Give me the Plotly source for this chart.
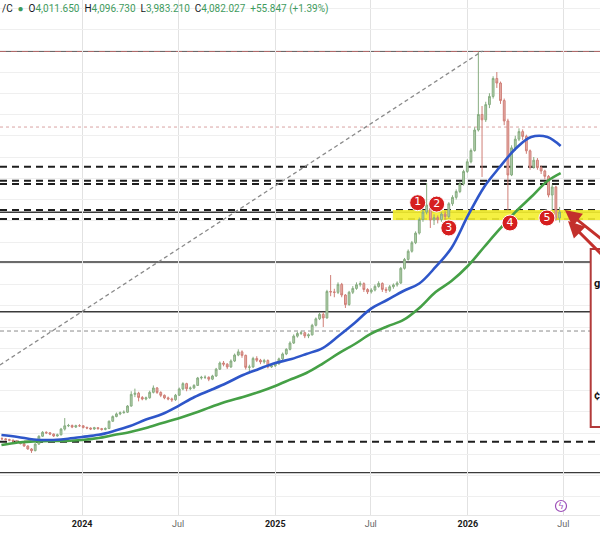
import pandas as pd
import plotly.graph_objects as go

# ---------------- data ----------------
week_start = "2023-08-02"
first_open = 1950
closes = [1947, 1940, 1934, 1927, 1919, 1902, 1880, 1852, 1836, 1898,
          1972, 2009, 2004, 1992, 1974, 1985, 2039, 2070, 2073, 2058,
          2071, 2070, 2055, 2049, 2040, 2052, 2043, 2036, 2044, 2113,
          2157, 2182, 2193, 2198, 2256, 2366, 2377, 2337, 2322, 2334,
          2385, 2426, 2384, 2357, 2333, 2323, 2315, 2358, 2417, 2467,
          2419, 2426, 2450, 2520, 2526, 2527, 2509, 2539, 2603, 2661,
          2650, 2624, 2680, 2736, 2766, 2733, 2620, 2624, 2704, 2687,
          2671, 2684, 2624, 2634, 2653, 2700, 2746, 2790, 2849, 2914,
          2939, 2946, 2916, 2926, 3016, 3077, 3119, 3085, 3334, 3330,
          3326, 3401, 3301, 3211, 3327, 3363, 3398, 3408, 3353, 3331,
          3348, 3382, 3410, 3354, 3345, 3379, 3396, 3414, 3552, 3636,
          3713, 3793, 3884, 4012, 4082, 4148, 4007, 4029, 4010, 4063,
          4039, 4160, 4220, 4275, 4346, 4464, 4555, 4661, 4854, 5000,
          4950, 5093, 5170, 5339, 5296, 5131, 4939, 4431, 4686, 4768,
          4839, 4794, 4658, 4503, 4570, 4500, 4468, 4418, 4242, 4318,
          4026, 4082]
highs = [1962, 1955, 1948, 1942, 1935, 1926, 1910, 1886, 1860, 1905,
         1980, 2020, 2018, 2012, 1998, 1996, 2050, 2143, 2088, 2082,
         2080, 2085, 2076, 2062, 2055, 2060, 2058, 2050, 2055, 2120,
         2168, 2195, 2205, 2215, 2265, 2395, 2420, 2390, 2350, 2345,
         2400, 2450, 2435, 2395, 2365, 2345, 2335, 2370, 2430, 2480,
         2475, 2440, 2462, 2530, 2540, 2545, 2535, 2550, 2615, 2675,
         2680, 2660, 2695, 2750, 2790, 2780, 2740, 2645, 2720, 2725,
         2700, 2700, 2695, 2650, 2665, 2712, 2760, 2800, 2865, 2930,
         2955, 2965, 2955, 2940, 3030, 3090, 3135, 3140, 3350, 3489,
         3360, 3420, 3415, 3310, 3340, 3385, 3420, 3430, 3420, 3365,
         3365, 3400, 3430, 3420, 3375, 3395, 3410, 3430, 3565, 3650,
         3730, 3810, 3900, 4030, 4100, 4355, 4160, 4060, 4050, 4080,
         4090, 4175, 4240, 4295, 4365, 4480, 4580, 4680, 4880, 5588,
         5080, 5120, 5200, 5360, 5400, 5310, 5150, 4960, 4710, 4800,
         4870, 4860, 4810, 4670, 4600, 4590, 4520, 4480, 4430, 4340,
         4330, 4130]
lows = [1938, 1930, 1925, 1918, 1910, 1895, 1872, 1845, 1815, 1830,
        1890, 1965, 1992, 1982, 1965, 1968, 1980, 2025, 2058, 2048,
        2050, 2060, 2045, 2038, 2030, 2032, 2035, 2025, 2028, 2040,
        2108, 2150, 2170, 2185, 2190, 2250, 2340, 2300, 2310, 2310,
        2325, 2375, 2370, 2340, 2320, 2310, 2295, 2305, 2350, 2405,
        2395, 2405, 2415, 2445, 2505, 2510, 2490, 2500, 2530, 2595,
        2630, 2605, 2615, 2670, 2725, 2710, 2600, 2567, 2615, 2670,
        2650, 2655, 2610, 2615, 2625, 2645, 2690, 2735, 2780, 2840,
        2900, 2925, 2895, 2895, 2920, 3005, 3065, 3000, 3080, 3290,
        3280, 3310, 3280, 3179, 3200, 3310, 3350, 3380, 3330, 3310,
        3315, 3335, 3370, 3330, 3320, 3330, 3360, 3380, 3405, 3540,
        3625, 3700, 3780, 3870, 3990, 4060, 3932, 3960, 3975, 3990,
        4010, 4025, 4140, 4200, 4260, 4330, 4450, 4540, 4650, 4840,
        4412, 4930, 5060, 5150, 5250, 5100, 4900, 4101, 4420, 4660,
        4750, 4760, 4630, 4480, 4490, 4480, 4440, 4390, 4220, 4101,
        4000, 3983]

ma_dates = ["2023-08-01", "2023-09-01", "2023-10-01", "2023-11-01", "2023-12-01",
            "2024-01-01", "2024-02-01", "2024-03-01", "2024-04-01", "2024-05-01",
            "2024-06-01", "2024-07-01", "2024-08-01", "2024-09-01", "2024-10-01",
            "2024-11-01", "2024-12-01", "2025-01-01", "2025-02-01", "2025-03-01",
            "2025-04-01", "2025-05-01", "2025-06-01", "2025-07-01", "2025-08-01",
            "2025-09-01", "2025-10-01", "2025-11-01", "2025-12-01", "2026-01-01",
            "2026-02-01", "2026-03-01", "2026-04-01", "2026-05-01", "2026-06-01",
            "2026-06-26"]
ma_blue = [1983, 1965, 1941, 1936, 1946, 1965, 1985, 2021, 2068, 2129,
           2181, 2256, 2341, 2407, 2473, 2548, 2605, 2661, 2699, 2746,
           2802, 2915, 3040, 3170, 3254, 3339, 3409, 3565, 3743, 4045,
           4318, 4496, 4675, 4788, 4788, 4703]
ma_green = [1889, 1913, 1922, 1927, 1927, 1936, 1955, 1983, 2012, 2049,
            2096, 2139, 2190, 2247, 2299, 2341, 2388, 2445, 2510, 2567,
            2656, 2751, 2840, 2935, 3005, 3066, 3179, 3329, 3433, 3574,
            3753, 3913, 4082, 4223, 4374, 4449]

tick_dates = ["2024-01-01", "2024-07-01", "2025-01-01", "2025-07-01", "2026-01-01", "2026-07-01"]
tick_labels = ["2024", "Jul", "2025", "Jul", "2026", "Jul"]

level_top = 5598
level_dotted_red = 4882
levels_dashed = [4509, 4377, 4346, 4101, 4016, 1920]
levels_solid = [4080, 3612, 3144, 1629]
level_dashed_gray = 2962
zone_low, zone_high = 4007, 4101
zone_start = "2025-08-12"

trend_dates = ["2023-07-29", "2026-01-29"]
trend_prices = [2642, 5598]

touch_labels = ["1", "2", "3", "4", "5"]
touch_dates = ["2025-09-28", "2025-11-03", "2025-11-26", "2026-03-22", "2026-05-31"]
touch_prices = [4170, 4157, 3932, 3979, 4026]

arrow_tips = [("2026-07-04", 4101), ("2026-07-10", 3998)]
arrow_tails = [("2026-10-17", 3687), ("2026-10-17", 3508)]

header_symbol = "/C"
header_open, header_high, header_low, header_close = "4,011.650", "4,096.730", "3,983.210", "4,082.027"
header_change = "+55.847 (+1.39%)"
box_texts = ["g", "¢"]

# ---------------- figure ----------------
dates = pd.date_range(week_start, periods=len(closes), freq="7D")
opens = [first_open] + closes[:-1]

fig = go.Figure()

fig.add_trace(go.Candlestick(
    x=dates, open=opens, high=highs, low=lows, close=closes,
    increasing=dict(line=dict(color="#87ad80", width=1), fillcolor="#b3cfae"),
    decreasing=dict(line=dict(color="#cf7f77", width=1), fillcolor="#e6b0aa"),
    whiskerwidth=0, hoverinfo="skip", showlegend=False))

fig.add_trace(go.Scatter(x=trend_dates, y=trend_prices, mode="lines",
                         line=dict(color="#8a8a8a", width=1.3, dash="4px,3px"),
                         hoverinfo="skip", showlegend=False))

fig.add_trace(go.Scatter(x=ma_dates, y=ma_green, mode="lines",
                         line=dict(color="#45a046", width=2.6, shape="spline"),
                         hoverinfo="skip", showlegend=False))
fig.add_trace(go.Scatter(x=ma_dates, y=ma_blue, mode="lines",
                         line=dict(color="#2e56c9", width=2.6, shape="spline"),
                         hoverinfo="skip", showlegend=False))

fig.add_trace(go.Scatter(x=touch_dates, y=touch_prices, mode="markers+text",
                         text=touch_labels, textposition="middle center",
                         textfont=dict(color="white", size=11, family="DejaVu Sans"),
                         marker=dict(size=16, color="#d61f1f", line=dict(color="#ffffff", width=1)),
                         hoverinfo="skip", showlegend=False, cliponaxis=False))

shapes = []
shapes.append(dict(type="rect", xref="x", yref="y", x0=zone_start, x1="2027-01-01",
                   y0=zone_low, y1=zone_high, fillcolor="#f4ee2e", line=dict(width=0),
                   opacity=0.9, layer="between"))
shapes.append(dict(type="line", xref="paper", yref="y", x0=0, x1=1, y0=level_top, y1=level_top,
                   line=dict(color="#3b3535", width=1.5), layer="between"))
shapes.append(dict(type="line", xref="paper", yref="y", x0=0, x1=1, y0=level_top, y1=level_top,
                   line=dict(color="#c86b6b", width=1.5, dash="6px,5px"), layer="between"))
shapes.append(dict(type="line", xref="paper", yref="y", x0=0, x1=1,
                   y0=level_dotted_red, y1=level_dotted_red,
                   line=dict(color="#d9a3a3", width=1, dash="3px,3px"), layer="between"))
for lv in levels_dashed:
    shapes.append(dict(type="line", xref="paper", yref="y", x0=0, x1=1, y0=lv, y1=lv,
                       line=dict(color="#1e1e1e", width=2, dash="7px,5px"), layer="between"))
for lv in levels_solid:
    shapes.append(dict(type="line", xref="paper", yref="y", x0=0, x1=1, y0=lv, y1=lv,
                       line=dict(color="#3a3a3a", width=1.4), layer="between"))
shapes.append(dict(type="line", xref="paper", yref="y", x0=0, x1=1,
                   y0=level_dashed_gray, y1=level_dashed_gray,
                   line=dict(color="#8c8c8c", width=1, dash="4px,3px"), layer="between"))
shapes.append(dict(type="rect", xref="paper", yref="paper", x0=0.9845, x1=1.05,
                   y0=0.171, y1=0.5165, fillcolor="white",
                   line=dict(color="#b23a3a", width=2), layer="above"))
shapes.append(dict(type="circle", xref="paper", yref="paper", x0=0.9258, x1=0.9442,
                   y0=0.0068, y1=0.0282, line=dict(color="#9c4fb8", width=1.2),
                   fillcolor="white", layer="above"))

annotations = []
for (tx, ty), (ax_, ay_) in zip(arrow_tips, arrow_tails):
    annotations.append(dict(x=tx, y=ty, xref="x", yref="y", ax=ax_, ay=ay_, axref="x", ayref="y",
                            text="", showarrow=True, arrowhead=2, arrowsize=1.1,
                            arrowwidth=3, arrowcolor="#c3302c"))

green_txt = "#3f9b5e"
header = (f'<span style="color:#131722">{header_symbol}</span>  '
          f'<span style="color:{green_txt}">●</span>  '
          f'O<span style="color:{green_txt}">{header_open}</span>  '
          f'H<span style="color:{green_txt}">{header_high}</span>  '
          f'L<span style="color:{green_txt}">{header_low}</span>  '
          f'C<span style="color:{green_txt}">{header_close}</span>  '
          f'<span style="color:{green_txt}">{header_change}</span>')
annotations.append(dict(x=0, y=1 - 9 / 515, xref="paper", yref="paper", xanchor="left",
                        yanchor="middle", text=header, showarrow=False,
                        font=dict(size=10, color="#131722", family="Roboto, Arial")))
annotations.append(dict(x=592 / 600, y=1 - 283 / 515, xref="paper", yref="paper", xanchor="left",
                        yanchor="middle", text=f"<b>{box_texts[0]}</b>", showarrow=False,
                        font=dict(size=11, color="#111111", family="Roboto, Arial")))
annotations.append(dict(x=592 / 600, y=1 - 395 / 515, xref="paper", yref="paper", xanchor="left",
                        yanchor="middle", text=f"<b>{box_texts[1]}</b>", showarrow=False,
                        font=dict(size=11, color="#111111", family="Roboto, Arial")))
annotations.append(dict(x=0.935, y=1 - 506 / 515, xref="paper", yref="paper", xanchor="center",
                        yanchor="middle", text="ϟ", showarrow=False,
                        font=dict(size=9, color="#9c4fb8", family="DejaVu Sans")))

ticktext = [f'<b><span style="color:#1a1a1a">{t}</span></b>' if t[0].isdigit() else t
            for t in tick_labels]

fig.update_layout(
    width=600, height=534,
    margin=dict(l=0, r=0, t=0, b=19),
    paper_bgcolor="white", plot_bgcolor="white",
    showlegend=False,
    shapes=shapes, annotations=annotations,
    font=dict(family="Roboto, Arial", size=9, color="#555555"),
    xaxis=dict(type="date", range=["2023-07-29 07:00", "2026-09-08 14:00"],
               rangeslider=dict(visible=False),
               tickvals=tick_dates, ticktext=ticktext, ticks="", ticklen=0,
               showgrid=True, gridcolor="#e2e2e2", gridwidth=1,
               showline=True, linecolor="#e6e6e6", zeroline=False,
               tickfont=dict(size=9, color="#666666")),
    yaxis=dict(range=[1230.5, 6077.7], dtick=200, tick0=0, showticklabels=False,
               showgrid=True, gridcolor="#efefef", zeroline=False, ticks=""),
)

fig.write_html("out.html")
